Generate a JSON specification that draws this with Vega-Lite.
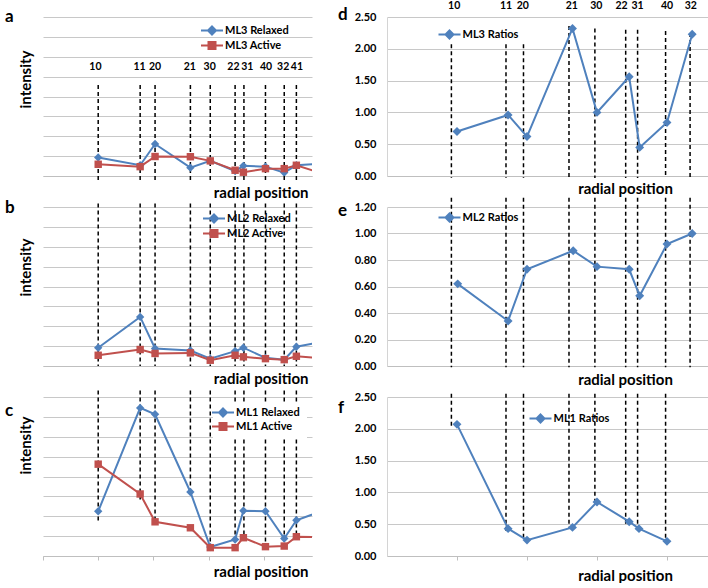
{
  "$schema": "https://vega.github.io/schema/vega-lite/v6.json",
  "padding": {"left": 5, "top": 1, "right": 0, "bottom": 0},
  "background": "white",
  "columns": 2,
  "bounds": "flush",
  "spacing": {"row": 31, "column": 75},
  "config": {
    "view": {"stroke": null},
    "font": "Lato",
    "title": {"font": "Lato", "fontSize": 17, "fontWeight": "bold", "color": "#000", "anchor": "start", "frame": "group", "offset": 0},
    "axis": {"labelFont": "Lato", "titleFont": "Lato", "titleFontSize": 15, "titleFontWeight": "bold", "titleColor": "#000", "gridColor": "#c8c8c8", "gridOpacity": 1, "domainColor": "#bfbfbf", "tickColor": "#bfbfbf"},
    "legend": {"orient": "none", "title": null, "symbolSize": 100, "symbolStrokeWidth": 2, "labelFont": "Lato", "labelFontWeight": "bold", "labelFontSize": 11, "labelColor": "#000", "labelOffset": 7, "rowPadding": -1, "padding": 0, "symbolOpacity": 1}
  },
  "resolve": {"scale": {"color": "independent", "shape": "independent", "x": "independent", "y": "independent"}},
  "datasets": {
    "pts": [
      {"p": "a", "s": "ML3 Relaxed", "k": "R", "x": 1.0, "y": 0.93},
      {"p": "a", "s": "ML3 Relaxed", "k": "R", "x": 1.76, "y": 0.54},
      {"p": "a", "s": "ML3 Relaxed", "k": "R", "x": 2.03, "y": 1.61},
      {"p": "a", "s": "ML3 Relaxed", "k": "R", "x": 2.67, "y": 0.42},
      {"p": "a", "s": "ML3 Relaxed", "k": "R", "x": 3.03, "y": 0.76},
      {"p": "a", "s": "ML3 Relaxed", "k": "R", "x": 3.48, "y": 0.25},
      {"p": "a", "s": "ML3 Relaxed", "k": "R", "x": 3.63, "y": 0.51},
      {"p": "a", "s": "ML3 Relaxed", "k": "R", "x": 4.03, "y": 0.47},
      {"p": "a", "s": "ML3 Relaxed", "k": "R", "x": 4.37, "y": 0.17},
      {"p": "a", "s": "ML3 Relaxed", "k": "R", "x": 4.59, "y": 0.54},
      {"p": "a", "s": "ML3 Relaxed", "k": "R", "x": 5.05, "y": 0.62},
      {"p": "a", "s": "ML3 Active", "k": "A", "x": 1.0, "y": 0.59},
      {"p": "a", "s": "ML3 Active", "k": "A", "x": 1.76, "y": 0.47},
      {"p": "a", "s": "ML3 Active", "k": "A", "x": 2.03, "y": 0.98},
      {"p": "a", "s": "ML3 Active", "k": "A", "x": 2.67, "y": 0.97},
      {"p": "a", "s": "ML3 Active", "k": "A", "x": 3.03, "y": 0.76},
      {"p": "a", "s": "ML3 Active", "k": "A", "x": 3.48, "y": 0.29},
      {"p": "a", "s": "ML3 Active", "k": "A", "x": 3.63, "y": 0.19},
      {"p": "a", "s": "ML3 Active", "k": "A", "x": 4.03, "y": 0.37},
      {"p": "a", "s": "ML3 Active", "k": "A", "x": 4.37, "y": 0.37},
      {"p": "a", "s": "ML3 Active", "k": "A", "x": 4.59, "y": 0.54},
      {"p": "a", "s": "ML3 Active", "k": "A", "x": 5.05, "y": 0.13},
      {"p": "b", "s": "ML2 Relaxed", "k": "R", "x": 1.0, "y": 0.92},
      {"p": "b", "s": "ML2 Relaxed", "k": "R", "x": 1.76, "y": 2.47},
      {"p": "b", "s": "ML2 Relaxed", "k": "R", "x": 2.03, "y": 0.88},
      {"p": "b", "s": "ML2 Relaxed", "k": "R", "x": 2.67, "y": 0.78},
      {"p": "b", "s": "ML2 Relaxed", "k": "R", "x": 3.03, "y": 0.37},
      {"p": "b", "s": "ML2 Relaxed", "k": "R", "x": 3.48, "y": 0.75},
      {"p": "b", "s": "ML2 Relaxed", "k": "R", "x": 3.63, "y": 0.92},
      {"p": "b", "s": "ML2 Relaxed", "k": "R", "x": 4.03, "y": 0.41},
      {"p": "b", "s": "ML2 Relaxed", "k": "R", "x": 4.37, "y": 0.32},
      {"p": "b", "s": "ML2 Relaxed", "k": "R", "x": 4.59, "y": 0.97},
      {"p": "b", "s": "ML2 Relaxed", "k": "R", "x": 5.05, "y": 1.21},
      {"p": "b", "s": "ML2 Active", "k": "A", "x": 1.0, "y": 0.54},
      {"p": "b", "s": "ML2 Active", "k": "A", "x": 1.76, "y": 0.83},
      {"p": "b", "s": "ML2 Active", "k": "A", "x": 2.03, "y": 0.63},
      {"p": "b", "s": "ML2 Active", "k": "A", "x": 2.67, "y": 0.66},
      {"p": "b", "s": "ML2 Active", "k": "A", "x": 3.03, "y": 0.29},
      {"p": "b", "s": "ML2 Active", "k": "A", "x": 3.48, "y": 0.54},
      {"p": "b", "s": "ML2 Active", "k": "A", "x": 3.63, "y": 0.46},
      {"p": "b", "s": "ML2 Active", "k": "A", "x": 4.03, "y": 0.37},
      {"p": "b", "s": "ML2 Active", "k": "A", "x": 4.37, "y": 0.32},
      {"p": "b", "s": "ML2 Active", "k": "A", "x": 4.59, "y": 0.49},
      {"p": "b", "s": "ML2 Active", "k": "A", "x": 5.05, "y": 0.38},
      {"p": "c", "s": "ML1  Relaxed", "k": "R", "x": 1.0, "y": 2.25},
      {"p": "c", "s": "ML1  Relaxed", "k": "R", "x": 1.76, "y": 7.45},
      {"p": "c", "s": "ML1  Relaxed", "k": "R", "x": 2.03, "y": 7.13},
      {"p": "c", "s": "ML1  Relaxed", "k": "R", "x": 2.67, "y": 3.22},
      {"p": "c", "s": "ML1  Relaxed", "k": "R", "x": 3.03, "y": 0.45},
      {"p": "c", "s": "ML1  Relaxed", "k": "R", "x": 3.48, "y": 0.83},
      {"p": "c", "s": "ML1  Relaxed", "k": "R", "x": 3.63, "y": 2.28},
      {"p": "c", "s": "ML1  Relaxed", "k": "R", "x": 4.03, "y": 2.25},
      {"p": "c", "s": "ML1  Relaxed", "k": "R", "x": 4.37, "y": 0.88},
      {"p": "c", "s": "ML1  Relaxed", "k": "R", "x": 4.59, "y": 1.8},
      {"p": "c", "s": "ML1  Relaxed", "k": "R", "x": 5.05, "y": 2.26},
      {"p": "c", "s": "ML1 Active", "k": "A", "x": 1.0, "y": 4.62},
      {"p": "c", "s": "ML1 Active", "k": "A", "x": 1.76, "y": 3.12},
      {"p": "c", "s": "ML1 Active", "k": "A", "x": 2.03, "y": 1.72},
      {"p": "c", "s": "ML1 Active", "k": "A", "x": 2.67, "y": 1.42},
      {"p": "c", "s": "ML1 Active", "k": "A", "x": 3.03, "y": 0.42},
      {"p": "c", "s": "ML1 Active", "k": "A", "x": 3.48, "y": 0.42},
      {"p": "c", "s": "ML1 Active", "k": "A", "x": 3.63, "y": 0.92},
      {"p": "c", "s": "ML1 Active", "k": "A", "x": 4.03, "y": 0.47},
      {"p": "c", "s": "ML1 Active", "k": "A", "x": 4.37, "y": 0.5},
      {"p": "c", "s": "ML1 Active", "k": "A", "x": 4.59, "y": 0.97},
      {"p": "c", "s": "ML1 Active", "k": "A", "x": 5.05, "y": 0.94},
      {"p": "d", "s": "ML3 Ratios", "k": "R", "x": 1.0, "y": 0.7},
      {"p": "d", "s": "ML3 Ratios", "k": "R", "x": 1.73, "y": 0.96},
      {"p": "d", "s": "ML3 Ratios", "k": "R", "x": 2.0, "y": 0.62},
      {"p": "d", "s": "ML3 Ratios", "k": "R", "x": 2.65, "y": 2.32},
      {"p": "d", "s": "ML3 Ratios", "k": "R", "x": 3.0, "y": 1.0},
      {"p": "d", "s": "ML3 Ratios", "k": "R", "x": 3.46, "y": 1.56},
      {"p": "d", "s": "ML3 Ratios", "k": "R", "x": 3.61, "y": 0.45},
      {"p": "d", "s": "ML3 Ratios", "k": "R", "x": 4.0, "y": 0.84},
      {"p": "d", "s": "ML3 Ratios", "k": "R", "x": 4.36, "y": 2.23},
      {"p": "e", "s": "ML2 Ratios", "k": "R", "x": 1.01, "y": 0.62},
      {"p": "e", "s": "ML2 Ratios", "k": "R", "x": 1.73, "y": 0.34},
      {"p": "e", "s": "ML2 Ratios", "k": "R", "x": 2.0, "y": 0.73},
      {"p": "e", "s": "ML2 Ratios", "k": "R", "x": 2.66, "y": 0.87},
      {"p": "e", "s": "ML2 Ratios", "k": "R", "x": 3.0, "y": 0.75},
      {"p": "e", "s": "ML2 Ratios", "k": "R", "x": 3.46, "y": 0.73},
      {"p": "e", "s": "ML2 Ratios", "k": "R", "x": 3.61, "y": 0.53},
      {"p": "e", "s": "ML2 Ratios", "k": "R", "x": 4.0, "y": 0.92},
      {"p": "e", "s": "ML2 Ratios", "k": "R", "x": 4.36, "y": 1.0},
      {"p": "f", "s": "ML1 Ratios", "k": "R", "x": 1.0, "y": 2.07},
      {"p": "f", "s": "ML1 Ratios", "k": "R", "x": 1.73, "y": 0.43},
      {"p": "f", "s": "ML1 Ratios", "k": "R", "x": 2.0, "y": 0.25},
      {"p": "f", "s": "ML1 Ratios", "k": "R", "x": 2.65, "y": 0.45},
      {"p": "f", "s": "ML1 Ratios", "k": "R", "x": 3.0, "y": 0.85},
      {"p": "f", "s": "ML1 Ratios", "k": "R", "x": 3.46, "y": 0.54},
      {"p": "f", "s": "ML1 Ratios", "k": "R", "x": 3.6, "y": 0.43},
      {"p": "f", "s": "ML1 Ratios", "k": "R", "x": 4.0, "y": 0.23}
    ],
    "guides": [
      {"p": "a", "x": 1.0, "y": 4.58, "y2": -0.25},
      {"p": "a", "x": 1.76, "y": 4.58, "y2": -0.25},
      {"p": "a", "x": 2.03, "y": 4.58, "y2": -0.25},
      {"p": "a", "x": 2.67, "y": 4.58, "y2": -0.25},
      {"p": "a", "x": 3.03, "y": 4.58, "y2": -0.25},
      {"p": "a", "x": 3.48, "y": 4.58, "y2": -0.25},
      {"p": "a", "x": 3.64, "y": 4.58, "y2": -0.25},
      {"p": "a", "x": 4.03, "y": 4.58, "y2": -0.25},
      {"p": "a", "x": 4.37, "y": 4.58, "y2": -0.25},
      {"p": "a", "x": 4.59, "y": 4.58, "y2": -0.25},
      {"p": "b", "x": 1.0, "y": 8.17, "y2": 0},
      {"p": "b", "x": 1.76, "y": 8.17, "y2": 0},
      {"p": "b", "x": 2.03, "y": 8.17, "y2": 0},
      {"p": "b", "x": 2.67, "y": 8.17, "y2": 0},
      {"p": "b", "x": 3.03, "y": 8.17, "y2": 0},
      {"p": "b", "x": 3.48, "y": 8.17, "y2": 0},
      {"p": "b", "x": 3.64, "y": 8.17, "y2": 0},
      {"p": "b", "x": 4.03, "y": 8.17, "y2": 0},
      {"p": "b", "x": 4.37, "y": 8.17, "y2": 0},
      {"p": "b", "x": 4.59, "y": 8.17, "y2": 0},
      {"p": "c", "x": 1.0, "y": 8.33, "y2": 1.75},
      {"p": "c", "x": 1.76, "y": 8.33, "y2": 2.83},
      {"p": "c", "x": 2.03, "y": 8.33, "y2": 1.6},
      {"p": "c", "x": 2.67, "y": 8.33, "y2": 3.2},
      {"p": "c", "x": 3.03, "y": 8.33, "y2": 0.4},
      {"p": "c", "x": 3.48, "y": 8.33, "y2": 0.83},
      {"p": "c", "x": 3.64, "y": 8.33, "y2": 0.92},
      {"p": "c", "x": 4.03, "y": 8.33, "y2": 0.47},
      {"p": "c", "x": 4.37, "y": 8.33, "y2": 0.5},
      {"p": "c", "x": 4.59, "y": 8.33, "y2": 0.95},
      {"p": "d", "x": 0.92, "y": 2.07, "y2": -0.03},
      {"p": "d", "x": 1.7, "y": 2.07, "y2": -0.03},
      {"p": "d", "x": 1.95, "y": 2.07, "y2": -0.03},
      {"p": "d", "x": 2.6, "y": 2.36, "y2": -0.03},
      {"p": "d", "x": 2.97, "y": 2.32, "y2": -0.03},
      {"p": "d", "x": 3.41, "y": 2.3, "y2": -0.03},
      {"p": "d", "x": 3.58, "y": 2.3, "y2": -0.03},
      {"p": "d", "x": 3.98, "y": 2.28, "y2": -0.03},
      {"p": "d", "x": 4.33, "y": 2.25, "y2": -0.03},
      {"p": "e", "x": 0.92, "y": 1.27, "y2": -0.01},
      {"p": "e", "x": 1.7, "y": 1.27, "y2": -0.01},
      {"p": "e", "x": 1.95, "y": 1.27, "y2": -0.01},
      {"p": "e", "x": 2.6, "y": 1.27, "y2": -0.01},
      {"p": "e", "x": 2.97, "y": 1.27, "y2": -0.01},
      {"p": "e", "x": 3.41, "y": 1.27, "y2": -0.01},
      {"p": "e", "x": 3.58, "y": 1.27, "y2": -0.01},
      {"p": "e", "x": 3.98, "y": 1.27, "y2": -0.01},
      {"p": "e", "x": 4.33, "y": 1.27, "y2": -0.01},
      {"p": "f", "x": 0.92, "y": 2.55, "y2": 2.0},
      {"p": "f", "x": 1.7, "y": 2.55, "y2": 0.35},
      {"p": "f", "x": 1.95, "y": 2.55, "y2": 0.25},
      {"p": "f", "x": 2.6, "y": 2.55, "y2": 0.45},
      {"p": "f", "x": 2.97, "y": 2.55, "y2": 0.84},
      {"p": "f", "x": 3.41, "y": 2.55, "y2": 0.5},
      {"p": "f", "x": 3.58, "y": 2.55, "y2": 0.45},
      {"p": "f", "x": 3.98, "y": 2.55, "y2": 0.22}
    ],
    "labels": [
      {"p": "a", "t": "10", "x": 0.95, "y": 5.5},
      {"p": "a", "t": "11", "x": 1.75, "y": 5.5},
      {"p": "a", "t": "20", "x": 2.03, "y": 5.5},
      {"p": "a", "t": "21", "x": 2.66, "y": 5.5},
      {"p": "a", "t": "30", "x": 3.02, "y": 5.5},
      {"p": "a", "t": "22", "x": 3.45, "y": 5.5},
      {"p": "a", "t": "31", "x": 3.7, "y": 5.5},
      {"p": "a", "t": "40", "x": 4.04, "y": 5.5},
      {"p": "a", "t": "32", "x": 4.35, "y": 5.5},
      {"p": "a", "t": "41", "x": 4.6, "y": 5.5},
      {"p": "d", "t": "10", "x": 0.96, "y": 2.67},
      {"p": "d", "t": "11", "x": 1.7, "y": 2.67},
      {"p": "d", "t": "20", "x": 1.94, "y": 2.67},
      {"p": "d", "t": "21", "x": 2.64, "y": 2.67},
      {"p": "d", "t": "30", "x": 2.99, "y": 2.67},
      {"p": "d", "t": "22", "x": 3.35, "y": 2.67},
      {"p": "d", "t": "31", "x": 3.58, "y": 2.67},
      {"p": "d", "t": "40", "x": 4.0, "y": 2.67},
      {"p": "d", "t": "32", "x": 4.34, "y": 2.67}
    ]
  },
  "concat": [
    {
      "width": 269, "height": 159,
      "title": {"text": "a", "dx": -38, "dy": 18},
      "encoding": {
        "x": {"field": "x", "type": "quantitative", "scale": {"domain": [0, 4.873], "nice": false, "zero": false},
          "axis": {"title": "radial position", "values": [0, 1, 2, 3, 4], "labels": true, "labelExpr": "''", "ticks": false, "domain": true, "grid": false, "titleX": 265, "titleY": 16, "titleAlign": "right", "titleBaseline": "middle"}},
        "y": {"field": "y", "type": "quantitative", "scale": {"domain": [0, 8], "nice": false},
          "axis": {"title": "intensity", "values": [0, 1, 2, 3, 4, 5, 6, 7, 8], "labels": true, "labelExpr": "''", "ticks": false, "domain": true, "domainOpacity": 0, "grid": true, "titleAngle": 270, "titleX": -18, "titleY": 62, "titleAlign": "center", "titleBaseline": "middle"}}
      },
      "layer": [
        {"data": {"name": "guides"}, "transform": [{"filter": "datum.p == 'a'"}], "mark": {"type": "rule", "strokeDash": [4, 3], "strokeWidth": 1.5, "color": "#000"}, "encoding": {"y2": {"field": "y2"}}},
        {"data": {"name": "pts"}, "transform": [{"filter": "datum.p == 'a'"}], "mark": {"type": "line", "strokeWidth": 2, "clip": true},
          "encoding": {"detail": {"field": "s"}, "color": {"condition": {"test": "datum.k == 'A'", "value": "#C0504D"}, "value": "#4F81BD"}}},
        {"data": {"name": "pts"}, "transform": [{"filter": "datum.p == 'a'"}], "mark": {"type": "point", "filled": true, "opacity": 1, "clip": true},
          "encoding": {"color": {"condition": {"test": "datum.k == 'A'", "value": "#C0504D"}, "value": "#4F81BD"}, "shape": {"condition": {"test": "datum.k == 'A'", "value": "square"}, "value": "diamond"}, "size": {"condition": {"test": "datum.k == 'A'", "value": 55}, "value": 70}}},
        {"data": {"name": "pts"}, "transform": [{"filter": "datum.p == 'a'"}], "mark": {"type": "point", "opacity": 0},
          "encoding": {
            "color": {"field": "s", "type": "nominal", "scale": {"domain": ["ML3 Relaxed", "ML3 Active"], "range": ["#4F81BD", "#C0504D"]}, "legend": {"legendX": 163, "legendY": 7.5}},
            "shape": {"field": "s", "type": "nominal", "scale": {"domain": ["ML3 Relaxed", "ML3 Active"], "range": ["M-2.2,0H2.2M0,-0.8L0.8,0L0,0.8L-0.8,0ZM0,-0.4L0.4,0L0,0.4L-0.4,0Z", "M-2.2,0H2.2M-0.7,-0.7H0.7V0.7H-0.7ZM-0.3,-0.3H0.3V0.3H-0.3Z"]}, "legend": {"legendX": 163, "legendY": 7.5}}}},
        {"data": {"name": "labels"}, "transform": [{"filter": "datum.p == 'a'"}], "mark": {"type": "text", "font": "Lato", "fontWeight": "bold", "fontSize": 10.5, "color": "#000"}, "encoding": {"text": {"field": "t"}}}
      ]
    },
    {
      "width": 321, "height": 159,
      "title": {"text": "d", "dx": -49, "dy": 27},
      "encoding": {
        "x": {"field": "x", "type": "quantitative", "scale": {"domain": [0, 4.586], "nice": false, "zero": false},
          "axis": {"title": "radial position", "values": [1, 2, 3, 4], "labels": true, "labelExpr": "''", "ticks": false, "domain": true, "grid": false, "titleX": 238, "titleY": 12, "titleAlign": "center", "titleBaseline": "middle"}},
        "y": {"field": "y", "type": "quantitative", "scale": {"domain": [0, 2.5], "nice": false},
          "axis": {"title": null, "values": [0, 0.5, 1, 1.5, 2, 2.5], "format": ".2f", "labelFontWeight": "bold", "labelFontSize": 11, "labelColor": "#000", "labelPadding": 11, "ticks": false, "domain": true, "domainColor": "#d4d4d4", "grid": true}}
      },
      "layer": [
        {"data": {"name": "guides"}, "transform": [{"filter": "datum.p == 'd'"}], "mark": {"type": "rule", "strokeDash": [4, 3], "strokeWidth": 1.5, "color": "#000"}, "encoding": {"y2": {"field": "y2"}}},
        {"data": {"name": "pts"}, "transform": [{"filter": "datum.p == 'd'"}], "mark": {"type": "line", "strokeWidth": 2, "clip": true, "color": "#4F81BD"}, "encoding": {"detail": {"field": "s"}}},
        {"data": {"name": "pts"}, "transform": [{"filter": "datum.p == 'd'"}], "mark": {"type": "point", "filled": true, "opacity": 1, "shape": "diamond", "size": 80, "color": "#4F81BD"}, "encoding": {}},
        {"data": {"name": "pts"}, "transform": [{"filter": "datum.p == 'd'"}], "mark": {"type": "point", "opacity": 0},
          "encoding": {
            "color": {"field": "s", "type": "nominal", "scale": {"domain": ["ML3 Ratios"], "range": ["#4F81BD"]}, "legend": {"legendX": 56.5, "legendY": 11.5}},
            "shape": {"field": "s", "type": "nominal", "scale": {"domain": ["ML3 Ratios"], "range": ["M-2.2,0H2.2M0,-0.8L0.8,0L0,0.8L-0.8,0ZM0,-0.4L0.4,0L0,0.4L-0.4,0Z"]}, "legend": {"legendX": 56.5, "legendY": 11.5}}}},
        {"data": {"name": "labels"}, "transform": [{"filter": "datum.p == 'd'"}], "mark": {"type": "text", "font": "Lato", "fontWeight": "bold", "fontSize": 10.5, "color": "#000"}, "encoding": {"text": {"field": "t"}}}
      ]
    },
    {
      "width": 269, "height": 159,
      "title": {"text": "b", "dx": -38, "dy": 19},
      "encoding": {
        "x": {"field": "x", "type": "quantitative", "scale": {"domain": [0, 4.873], "nice": false, "zero": false},
          "axis": {"title": "radial position", "values": [0, 1, 2, 3, 4], "labels": true, "labelExpr": "''", "ticks": false, "domain": true, "grid": false, "titleX": 265, "titleY": 12.5, "titleAlign": "right", "titleBaseline": "middle"}},
        "y": {"field": "y", "type": "quantitative", "scale": {"domain": [0, 8], "nice": false},
          "axis": {"title": "intensity", "values": [0, 1, 2, 3, 4, 5, 6, 7, 8], "labels": true, "labelExpr": "''", "ticks": false, "domain": true, "domainOpacity": 0, "grid": true, "titleAngle": 270, "titleX": -18, "titleY": 60, "titleAlign": "center", "titleBaseline": "middle"}}
      },
      "layer": [
        {"data": {"name": "guides"}, "transform": [{"filter": "datum.p == 'b'"}], "mark": {"type": "rule", "strokeDash": [4, 3], "strokeWidth": 1.5, "color": "#000"}, "encoding": {"y2": {"field": "y2"}}},
        {"data": {"name": "pts"}, "transform": [{"filter": "datum.p == 'b'"}], "mark": {"type": "line", "strokeWidth": 2, "clip": true},
          "encoding": {"detail": {"field": "s"}, "color": {"condition": {"test": "datum.k == 'A'", "value": "#C0504D"}, "value": "#4F81BD"}}},
        {"data": {"name": "pts"}, "transform": [{"filter": "datum.p == 'b'"}], "mark": {"type": "point", "filled": true, "opacity": 1, "clip": true},
          "encoding": {"color": {"condition": {"test": "datum.k == 'A'", "value": "#C0504D"}, "value": "#4F81BD"}, "shape": {"condition": {"test": "datum.k == 'A'", "value": "square"}, "value": "diamond"}, "size": {"condition": {"test": "datum.k == 'A'", "value": 55}, "value": 70}}},
        {"data": {"name": "pts"}, "transform": [{"filter": "datum.p == 'b'"}], "mark": {"type": "point", "opacity": 0},
          "encoding": {
            "color": {"field": "s", "type": "nominal", "scale": {"domain": ["ML2 Relaxed", "ML2 Active"], "range": ["#4F81BD", "#C0504D"]}, "legend": {"legendX": 165, "legendY": 5.5}},
            "shape": {"field": "s", "type": "nominal", "scale": {"domain": ["ML2 Relaxed", "ML2 Active"], "range": ["M-2.2,0H2.2M0,-0.8L0.8,0L0,0.8L-0.8,0ZM0,-0.4L0.4,0L0,0.4L-0.4,0Z", "M-2.2,0H2.2M-0.7,-0.7H0.7V0.7H-0.7ZM-0.3,-0.3H0.3V0.3H-0.3Z"]}, "legend": {"legendX": 165, "legendY": 5.5}}}}
      ]
    },
    {
      "width": 321, "height": 159,
      "title": {"text": "e", "dx": -49, "dy": 27},
      "encoding": {
        "x": {"field": "x", "type": "quantitative", "scale": {"domain": [0, 4.586], "nice": false, "zero": false},
          "axis": {"title": "radial position", "values": [1, 2, 3, 4], "labels": true, "labelExpr": "''", "ticks": false, "domain": true, "grid": false, "titleX": 238, "titleY": 13, "titleAlign": "center", "titleBaseline": "middle"}},
        "y": {"field": "y", "type": "quantitative", "scale": {"domain": [0, 1.2], "nice": false},
          "axis": {"title": null, "values": [0, 0.2, 0.4, 0.6, 0.8, 1, 1.2], "format": ".2f", "labelFontWeight": "bold", "labelFontSize": 11, "labelColor": "#000", "labelPadding": 11, "ticks": false, "domain": true, "domainColor": "#d4d4d4", "grid": true}}
      },
      "layer": [
        {"data": {"name": "guides"}, "transform": [{"filter": "datum.p == 'e'"}], "mark": {"type": "rule", "strokeDash": [4, 3], "strokeWidth": 1.5, "color": "#000"}, "encoding": {"y2": {"field": "y2"}}},
        {"data": {"name": "pts"}, "transform": [{"filter": "datum.p == 'e'"}], "mark": {"type": "line", "strokeWidth": 2, "clip": true, "color": "#4F81BD"}, "encoding": {"detail": {"field": "s"}}},
        {"data": {"name": "pts"}, "transform": [{"filter": "datum.p == 'e'"}], "mark": {"type": "point", "filled": true, "opacity": 1, "shape": "diamond", "size": 80, "color": "#4F81BD"}, "encoding": {}},
        {"data": {"name": "pts"}, "transform": [{"filter": "datum.p == 'e'"}], "mark": {"type": "point", "opacity": 0},
          "encoding": {
            "color": {"field": "s", "type": "nominal", "scale": {"domain": ["ML2 Ratios"], "range": ["#4F81BD"]}, "legend": {"legendX": 56.5, "legendY": 4.5}},
            "shape": {"field": "s", "type": "nominal", "scale": {"domain": ["ML2 Ratios"], "range": ["M-2.2,0H2.2M0,-0.8L0.8,0L0,0.8L-0.8,0ZM0,-0.4L0.4,0L0,0.4L-0.4,0Z"]}, "legend": {"legendX": 56.5, "legendY": 4.5}}}}
      ]
    },
    {
      "width": 269, "height": 159,
      "title": {"text": "c", "dx": -38, "dy": 34},
      "encoding": {
        "x": {"field": "x", "type": "quantitative", "scale": {"domain": [0, 4.873], "nice": false, "zero": false},
          "axis": {"title": "radial position", "values": [0, 1, 2, 3, 4], "labels": true, "labelExpr": "''", "ticks": true, "tickSize": 4, "domain": true, "grid": false, "titleX": 265, "titleY": 15, "titleAlign": "right", "titleBaseline": "middle"}},
        "y": {"field": "y", "type": "quantitative", "scale": {"domain": [0, 8], "nice": false},
          "axis": {"title": "intensity", "values": [0, 1, 2, 3, 4, 5, 6, 7, 8], "labels": true, "labelExpr": "''", "ticks": false, "domain": true, "domainOpacity": 0, "grid": true, "titleAngle": 270, "titleX": -18, "titleY": 48, "titleAlign": "center", "titleBaseline": "middle"}}
      },
      "layer": [
        {"data": {"name": "guides"}, "transform": [{"filter": "datum.p == 'c'"}], "mark": {"type": "rule", "strokeDash": [4, 3], "strokeWidth": 1.5, "color": "#000"}, "encoding": {"y2": {"field": "y2"}}},
        {"data": {"name": "pts"}, "transform": [{"filter": "datum.p == 'c'"}], "mark": {"type": "line", "strokeWidth": 2, "clip": true},
          "encoding": {"detail": {"field": "s"}, "color": {"condition": {"test": "datum.k == 'A'", "value": "#C0504D"}, "value": "#4F81BD"}}},
        {"data": {"name": "pts"}, "transform": [{"filter": "datum.p == 'c'"}], "mark": {"type": "point", "filled": true, "opacity": 1, "clip": true},
          "encoding": {"color": {"condition": {"test": "datum.k == 'A'", "value": "#C0504D"}, "value": "#4F81BD"}, "shape": {"condition": {"test": "datum.k == 'A'", "value": "square"}, "value": "diamond"}, "size": {"condition": {"test": "datum.k == 'A'", "value": 55}, "value": 70}}},
        {"data": {"name": "pts"}, "transform": [{"filter": "datum.p == 'c'"}], "mark": {"type": "point", "opacity": 0},
          "encoding": {
            "color": {"field": "s", "type": "nominal", "scale": {"domain": ["ML1  Relaxed", "ML1 Active"], "range": ["#4F81BD", "#C0504D"]}, "legend": {"legendX": 170, "legendY": 5.5, "padding": 4, "rowPadding": -3, "fillColor": "#ffffff"}},
            "shape": {"field": "s", "type": "nominal", "scale": {"domain": ["ML1  Relaxed", "ML1 Active"], "range": ["M-2.2,0H2.2M0,-0.8L0.8,0L0,0.8L-0.8,0ZM0,-0.4L0.4,0L0,0.4L-0.4,0Z", "M-2.2,0H2.2M-0.7,-0.7H0.7V0.7H-0.7ZM-0.3,-0.3H0.3V0.3H-0.3Z"]}, "legend": {"legendX": 170, "legendY": 5.5, "padding": 4, "rowPadding": -3, "fillColor": "#ffffff"}}}}
      ]
    },
    {
      "width": 321, "height": 159,
      "title": {"text": "f", "dx": -49, "dy": 30},
      "encoding": {
        "x": {"field": "x", "type": "quantitative", "scale": {"domain": [0, 4.586], "nice": false, "zero": false},
          "axis": {"title": "radial position", "values": [1, 2, 3, 4], "labels": true, "labelExpr": "''", "ticks": true, "tickSize": 4, "domain": true, "grid": false, "titleX": 238, "titleY": 19, "titleAlign": "center", "titleBaseline": "middle"}},
        "y": {"field": "y", "type": "quantitative", "scale": {"domain": [0, 2.5], "nice": false},
          "axis": {"title": null, "values": [0, 0.5, 1, 1.5, 2, 2.5], "format": ".2f", "labelFontWeight": "bold", "labelFontSize": 11, "labelColor": "#000", "labelPadding": 11, "ticks": false, "domain": true, "domainColor": "#d4d4d4", "grid": true}}
      },
      "layer": [
        {"data": {"name": "guides"}, "transform": [{"filter": "datum.p == 'f'"}], "mark": {"type": "rule", "strokeDash": [4, 3], "strokeWidth": 1.5, "color": "#000"}, "encoding": {"y2": {"field": "y2"}}},
        {"data": {"name": "pts"}, "transform": [{"filter": "datum.p == 'f'"}], "mark": {"type": "line", "strokeWidth": 2, "clip": true, "color": "#4F81BD"}, "encoding": {"detail": {"field": "s"}}},
        {"data": {"name": "pts"}, "transform": [{"filter": "datum.p == 'f'"}], "mark": {"type": "point", "filled": true, "opacity": 1, "shape": "diamond", "size": 80, "color": "#4F81BD"}, "encoding": {}},
        {"data": {"name": "pts"}, "transform": [{"filter": "datum.p == 'f'"}], "mark": {"type": "point", "opacity": 0},
          "encoding": {
            "color": {"field": "s", "type": "nominal", "scale": {"domain": ["ML1 Ratios"], "range": ["#4F81BD"]}, "legend": {"legendX": 147.5, "legendY": 15.5}},
            "shape": {"field": "s", "type": "nominal", "scale": {"domain": ["ML1 Ratios"], "range": ["M-2.2,0H2.2M0,-0.8L0.8,0L0,0.8L-0.8,0ZM0,-0.4L0.4,0L0,0.4L-0.4,0Z"]}, "legend": {"legendX": 147.5, "legendY": 15.5}}}}
      ]
    }
  ]
}
